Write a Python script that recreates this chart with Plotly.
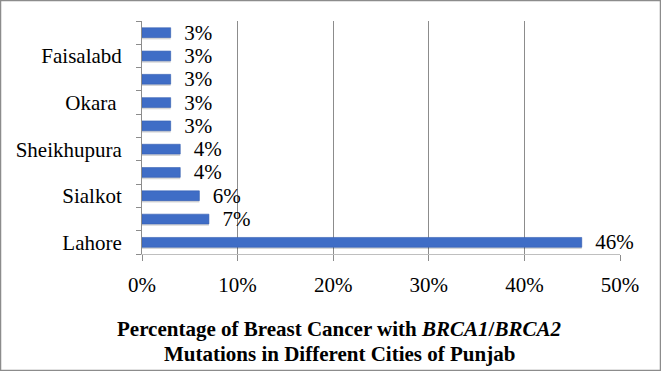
import plotly.graph_objects as go

# Data (bottom to top)
cities = ["Lahore", "", "Sialkot", "", "Sheikhupura", "", "Okara\u00a0", "", "Faisalabd", ""]
percent = [46, 7, 6, 4, 4, 3, 3, 3, 3, 3]
x_ticks = [0, 10, 20, 30, 40, 50]
x_tick_labels = ["0%", "10%", "20%", "30%", "40%", "50%"]
title_line1 = "Percentage of Breast Cancer with <i>BRCA1</i>/<i>BRCA2</i>"
title_line2 = "Mutations in Different Cities of Punjab"

W, H = 661, 371
ML, MR, MT, MB = 142, 41, 21, 117
PW, PH = W - ML - MR, H - MT - MB

FONT = "Liberation Serif, Times New Roman, serif"
FS = 21
BW = 0.42
pos = list(range(len(percent)))

fig = go.Figure()
# soft shadow under bars
fig.add_trace(go.Bar(
    x=percent, y=pos, orientation="h",
    marker=dict(color="rgba(0,0,0,0.16)", line=dict(width=0)),
    width=BW, offset=-BW / 2 - 0.08,
    hoverinfo="skip",
))
fig.add_trace(go.Bar(
    x=percent, y=pos, orientation="h",
    marker=dict(color="#3F6DC6", line=dict(color="#3560B3", width=0.6)),
    width=BW, offset=-BW / 2,
    text=["\u00a0\u00a0" + f"{v}%" for v in percent],
    textposition="outside",
    constraintext="none",
    textfont=dict(family=FONT, size=FS, color="#000"),
    outsidetextfont=dict(family=FONT, size=FS, color="#000"),
    cliponaxis=False,
    hoverinfo="skip",
))

fig.update_layout(
    width=W, height=H,
    margin=dict(l=ML, r=MR, t=MT, b=MB, autoexpand=False),
    paper_bgcolor="white", plot_bgcolor="white",
    showlegend=False,
    barmode="overlay",
    font=dict(family=FONT, size=FS, color="#000"),
    xaxis=dict(
        range=[0, 50], tickvals=x_ticks, ticktext=x_tick_labels,
        showgrid=True, gridcolor="#8C8C8C", gridwidth=1,
        ticks="outside", ticklen=6, tickcolor="#8C8C8C",
        showline=True, linecolor="#BFBFBF", linewidth=1,
        zeroline=False, ticklabelstandoff=6, automargin=False,
        tickfont=dict(family=FONT, size=FS),
    ),
    yaxis=dict(
        range=[-0.5, len(percent) - 0.5],
        tickvals=pos, ticktext=cities, ticks="",
        showgrid=False, zeroline=False,
        showline=True, linecolor="#8C8C8C", linewidth=1,
        minor=dict(tickvals=[p - 0.5 for p in pos] + [len(pos) - 0.5],
                   ticks="outside", ticklen=5, tickcolor="#8C8C8C", showgrid=False),
        ticklabelstandoff=15, automargin=False,
        tickfont=dict(family=FONT, size=FS),
    ),
)

# Title as two bold lines below the chart
cx = (339 - ML) / PW
fig.add_annotation(text="<b>" + title_line1 + "</b>", xref="paper", yref="paper",
                   x=cx, y=(MT + PH - 329) / PH, xanchor="center", yanchor="middle",
                   showarrow=False, font=dict(family=FONT, size=21, color="#000"))
fig.add_annotation(text="<b>" + title_line2 + "</b>", xref="paper", yref="paper",
                   x=cx, y=(MT + PH - 354) / PH, xanchor="center", yanchor="middle",
                   showarrow=False, font=dict(family=FONT, size=21, color="#000"))

# Outer frame
fig.add_shape(type="rect", xref="paper", yref="paper",
              x0=(0.5 - ML) / PW, x1=(W - 0.5 - ML) / PW,
              y0=(MT + PH - (H - 0.5)) / PH, y1=(MT + PH - 0.5) / PH,
              line=dict(color="#8C8C8C", width=1.5), layer="below")

fig.write_html("out.html", config={"displayModeBar": False},
               post_script="document.body.style.margin='0';document.body.style.overflow='hidden';")
